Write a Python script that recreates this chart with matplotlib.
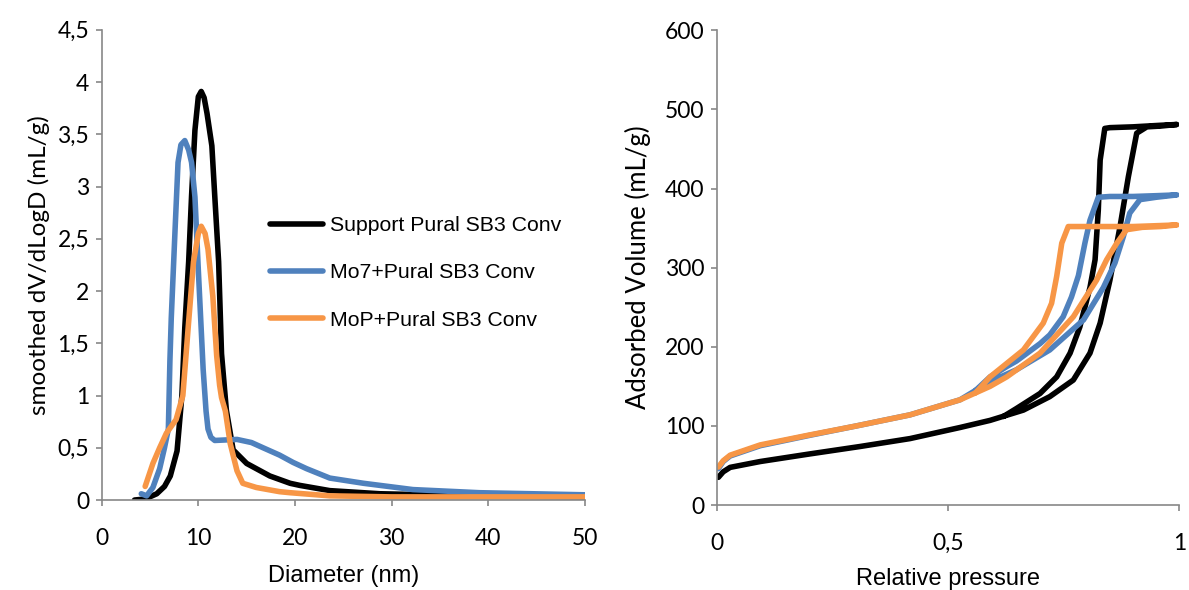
import matplotlib
matplotlib.use("Agg")
import matplotlib.pyplot as plt
from matplotlib.ticker import FuncFormatter

# pore size distribution (BJH, smoothed)
labels = ['Support Pural SB3 Conv', 'Mo7+Pural SB3 Conv', 'MoP+Pural SB3 Conv']
colors = ['black', '#4F81BD', '#F79646']

d_support = [3.4, 4.5, 5.7, 6.5, 7.1, 7.8, 8.3, 8.6, 9.0, 9.3, 9.65, 10.0, 10.3, 10.6,
             10.9, 11.4, 11.7, 12.1, 12.4, 12.9, 13.6, 15.0, 17.4, 19.5, 20.5, 23.6,
             28.8, 33.9, 40, 50]
psd_support = [0, 0.01, 0.06, 0.13, 0.23, 0.47, 1.0, 1.65, 2.28, 2.91, 3.54, 3.86, 3.91,
               3.85, 3.7, 3.39, 2.91, 2.28, 1.4, 0.86, 0.48, 0.35, 0.23, 0.16, 0.14, 0.09,
               0.06, 0.05, 0.04, 0.03]

d_mo7 = [4.1, 4.65, 5.3, 6.0, 6.5, 6.9, 7.06, 7.2, 7.6, 7.9, 8.2, 8.6, 9.0, 9.3, 9.65,
         10.0, 10.5, 10.8, 11.0, 11.3, 11.7, 14.0, 15.5, 16.7, 18.4, 19.8, 21.2, 23.6,
         27.1, 32.2, 39.1, 50]
psd_mo7 = [0.06, 0.04, 0.12, 0.3, 0.5, 0.68, 1.33, 1.74, 2.6, 3.23, 3.4, 3.44, 3.35, 3.23,
           2.9, 2.2, 1.25, 0.85, 0.68, 0.6, 0.57, 0.58, 0.55, 0.50, 0.43, 0.36, 0.30,
           0.21, 0.16, 0.10, 0.07, 0.05]

d_mop = [4.5, 5.3, 6.0, 6.7, 7.7, 8.4, 8.95, 9.5, 10.0, 10.3, 10.7, 11.0, 11.5, 11.9,
         12.2, 12.4, 12.8, 13.3, 14.0, 14.6, 16.0, 18.4, 19.5, 23.6, 30, 40, 50]
psd_mop = [0.13, 0.35, 0.5, 0.64, 0.77, 1.0, 1.65, 2.28, 2.55, 2.62, 2.55, 2.4, 1.95, 1.38,
           1.1, 0.98, 0.85, 0.54, 0.28, 0.16, 0.12, 0.08, 0.07, 0.04, 0.03, 0.03, 0.03]

# N2 isotherms: adsorption branch up to p/p0 = 1, then desorption back down
p_support = [0.0035, 0.014, 0.029, 0.094, 0.2, 0.31, 0.418, 0.526, 0.591, 0.663, 0.72,
             0.771, 0.807, 0.829, 0.850, 0.872, 0.89, 0.908, 0.93, 0.96, 0.995,
             0.96, 0.9, 0.85, 0.839, 0.829, 0.825, 0.818, 0.807, 0.785, 0.764, 0.735,
             0.699, 0.648, 0.62]
v_support = [35, 42, 47.6, 55, 64.5, 74, 84, 98, 107, 120, 137,
             158, 192, 230, 284, 352, 415, 470, 478, 479, 481,
             480, 478, 477, 476, 436, 373, 310, 275, 225, 192, 162,
             141, 122, 112]

p_mo7 = [0.0035, 0.014, 0.029, 0.094, 0.2, 0.302, 0.418, 0.526, 0.591, 0.648, 0.72,
         0.793, 0.836, 0.861, 0.879, 0.893, 0.915, 0.95, 0.995,
         0.95, 0.9, 0.85, 0.825, 0.807, 0.796, 0.782, 0.767, 0.749, 0.72, 0.699,
         0.648, 0.627, 0.591, 0.56]
v_mo7 = [46, 55, 62, 75, 88, 100, 114, 133, 156, 171, 196,
         234, 275, 306, 339, 369, 386, 389, 392,
         391, 390, 390, 389, 360, 331, 290, 263, 238, 215, 204,
         182, 175, 162, 145]

p_mop = [0.0035, 0.014, 0.029, 0.094, 0.2, 0.302, 0.418, 0.526, 0.591, 0.627, 0.699,
         0.771, 0.821, 0.843, 0.865, 0.886, 0.92, 0.96, 0.995,
         0.9, 0.8, 0.77, 0.760, 0.746, 0.735, 0.724, 0.706, 0.663, 0.591, 0.56]
v_mop = [48, 56, 63, 76, 88.5, 100, 114, 133, 150, 162, 192,
         238, 284, 310, 331, 348, 351, 352, 354,
         352, 352, 352, 352, 331, 289, 255, 230, 196, 162, 142]

tick_font = 'Lato'
label_font = 'Liberation Sans'
grey = '#888888'


def comma(v, pos):
    return ('%g' % v).replace('.', ',')


def style_axes(ax):
    for s in ['top', 'right']:
        ax.spines[s].set_visible(False)
    for s in ['left', 'bottom']:
        ax.spines[s].set_color(grey)
        ax.spines[s].set_linewidth(1.2)
    ax.tick_params(direction='out', length=4, width=1.2, color=grey, labelsize=16.5)
    ax.tick_params(axis='x', pad=16)
    ax.tick_params(axis='y', pad=5)
    for t in ax.get_xticklabels() + ax.get_yticklabels():
        t.set_family(tick_font)
    ax.xaxis.set_major_formatter(FuncFormatter(comma))
    ax.yaxis.set_major_formatter(FuncFormatter(comma))


fig = plt.figure(figsize=(11.89, 5.90), dpi=100)

# left: pore size distribution
ax1 = fig.add_axes([0.0855, 0.1525, 0.4065, 0.797])
for d, y, c, lab in zip([d_support, d_mo7, d_mop], [psd_support, psd_mo7, psd_mop],
                        colors, labels):
    ax1.plot(d, y, color=c, lw=4, label=lab, solid_joinstyle='round',
             solid_capstyle='round')
ax1.set_xlim(0, 50)
ax1.set_ylim(0, 4.5)
ax1.set_xticks(range(0, 51, 10))
ax1.set_yticks([i * 0.5 for i in range(10)])
style_axes(ax1)
ax1.set_xlabel('Diameter (nm)', family=label_font, fontsize=17, labelpad=12)
ax1.set_ylabel('smoothed dV/dLogD (mL/g)', family=tick_font, fontsize=17.5, labelpad=5)

leg = ax1.legend(loc='upper left', bbox_to_anchor=(270 / 1189, 1 - 216 / 590),
                 bbox_transform=fig.transFigure, frameon=False, borderpad=0,
                 borderaxespad=0, handlelength=2.5, handletextpad=0.3,
                 labelspacing=1.33, prop={'family': label_font, 'size': 15.3})

# right: nitrogen isotherms
ax2 = fig.add_axes([0.6028, 0.144, 0.389, 0.8046])
for p, v, c in zip([p_support, p_mo7, p_mop], [v_support, v_mo7, v_mop], colors):
    ax2.plot(p, v, color=c, lw=4, solid_joinstyle='round', solid_capstyle='round')
ax2.set_xlim(0, 1)
ax2.set_ylim(0, 600)
ax2.set_xticks([0, 0.5, 1])
ax2.set_yticks(range(0, 601, 100))
style_axes(ax2)
ax2.set_xlabel('Relative pressure', family=label_font, fontsize=17, labelpad=10)
ax2.set_ylabel('Adsorbed Volume (mL/g)', family=tick_font, fontsize=18.5, labelpad=10)

fig.savefig('out.png', dpi=100)
